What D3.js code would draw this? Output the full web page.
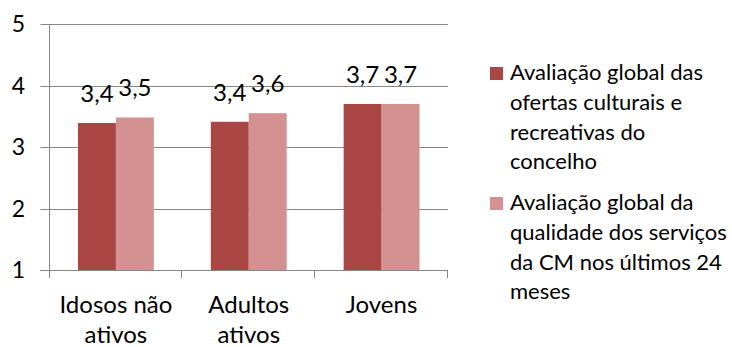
<!DOCTYPE html>
<html>
<head>
<meta charset="utf-8">
<script src="https://cdn.jsdelivr.net/npm/d3@7"></script>
<style>
  body { margin: 0; background: #fff; }
  svg text { font-family: Lato, "Open Sans", sans-serif; fill: #000; }
</style>
</head>
<body>
<div class="chart"></div>
<script>
// chart data
var categories = [["Idosos não", "ativos"], ["Adultos", "ativos"], ["Jovens"]];
var seriesNames = [
  ["Avaliação global das", "ofertas culturais e", "recreativas do", "concelho"],
  ["Avaliação global da", "qualidade dos serviços", "da CM nos últimos 24", "meses"]
];
var culturais = [3.39, 3.41, 3.70];
var servicos = [3.48, 3.55, 3.70];
var valueLabels = [["3,4", "3,4", "3,7"], ["3,5", "3,6", "3,7"]];
var yTicks = [1, 2, 3, 4, 5];

var colors = ["#A94744", "#D39191"];

var svgWidth = 732;
var svgHeight = 347;

var plot = { left: 49.5, right: 448, top: 24, bottom: 270 };

var svg = d3.select(".chart")
  .append("svg")
  .attr("width", svgWidth)
  .attr("height", svgHeight);

var catKeys = categories.map(function(c) { return c.join(" "); });

var x0 = d3.scaleBand()
  .domain(catKeys)
  .range([plot.left, plot.right])
  .padding(0);

var x1 = d3.scaleBand()
  .domain([0, 1])
  .range([0, x0.bandwidth()])
  .paddingInner(0)
  .paddingOuter(0.75);

var y = d3.scaleLinear()
  .domain([1, 5])
  .range([plot.bottom, plot.top]);

// gridlines
svg.append("g")
  .selectAll("line")
  .data(yTicks)
  .enter().append("line")
  .attr("x1", plot.left - 9)
  .attr("x2", plot.right)
  .attr("y1", d => Math.round(y(d)) + 0.5)
  .attr("y2", d => Math.round(y(d)) + 0.5)
  .attr("stroke", "#868686")
  .attr("stroke-width", 1);

// y tick labels
svg.append("g")
  .selectAll("text")
  .data(yTicks)
  .enter().append("text")
  .attr("x", 25)
  .attr("y", d => y(d))
  .attr("dy", "0.36em")
  .attr("text-anchor", "end")
  .attr("font-size", "23px")
  .text(d => d);

// bars
var rows = catKeys.map(function(k, i) {
  return { key: k, vals: [culturais[i], servicos[i]], labels: [valueLabels[0][i], valueLabels[1][i]] };
});

var groups = svg.append("g")
  .selectAll("g")
  .data(rows)
  .enter().append("g")
  .attr("transform", d => `translate(${x0(d.key)},0)`);

groups.selectAll("rect")
  .data(d => d.vals.map((v, s) => ({ s: s, v: v })))
  .enter().append("rect")
  .attr("x", d => x1(d.s))
  .attr("width", x1.bandwidth())
  .attr("y", d => y(d.v))
  .attr("height", d => y(1) - y(d.v))
  .attr("fill", d => colors[d.s]);

// value labels
groups.selectAll("text")
  .data(d => d.vals.map((v, s) => ({ s: s, v: v, t: d.labels[s] })))
  .enter().append("text")
  .attr("x", d => x1(d.s) + x1.bandwidth() / 2)
  .attr("y", d => y(d.v) - 21)
  .attr("text-anchor", "middle")
  .attr("font-size", "24px")
  .text(d => d.t);

// axes lines
var axisColor = "#868686";
svg.append("line")
  .attr("x1", plot.left).attr("x2", plot.left)
  .attr("y1", plot.top).attr("y2", plot.bottom + 8)
  .attr("stroke", axisColor);

svg.append("line")
  .attr("x1", plot.left - 9).attr("x2", plot.right)
  .attr("y1", plot.bottom + 0.5).attr("y2", plot.bottom + 0.5)
  .attr("stroke", axisColor);

// x tick marks at category boundaries
var bounds = catKeys.map(k => x0(k)).concat([plot.right]);
svg.append("g")
  .selectAll("line")
  .data(bounds)
  .enter().append("line")
  .attr("x1", d => Math.round(d) - 0.5)
  .attr("x2", d => Math.round(d) - 0.5)
  .attr("y1", plot.bottom)
  .attr("y2", plot.bottom + 8)
  .attr("stroke", axisColor);

// category labels
var catLabels = svg.append("g")
  .selectAll("text")
  .data(categories)
  .enter().append("text")
  .attr("x", (d, i) => x0(catKeys[i]) + x0.bandwidth() / 2)
  .attr("y", 313)
  .attr("text-anchor", "middle")
  .attr("font-size", "24px");

catLabels.selectAll("tspan")
  .data(d => d)
  .enter().append("tspan")
  .attr("x", function() { return d3.select(this.parentNode).attr("x"); })
  .attr("dy", (d, i) => i === 0 ? 0 : 30)
  .text(d => d);

// legend
var legendTop = [67, 197];
var legend = svg.append("g")
  .selectAll("g")
  .data(seriesNames)
  .enter().append("g")
  .attr("transform", (d, i) => `translate(490,${legendTop[i]})`);

legend.append("rect")
  .attr("width", 13)
  .attr("height", 13)
  .attr("fill", (d, i) => colors[i]);

legend.append("text")
  .attr("x", 20)
  .attr("y", 13)
  .attr("font-size", "22px")
  .selectAll("tspan")
  .data(d => d)
  .enter().append("tspan")
  .attr("x", 20)
  .attr("dy", (d, i) => i === 0 ? 0 : 29.8)
  .text(d => d);
</script>
</body>
</html>
